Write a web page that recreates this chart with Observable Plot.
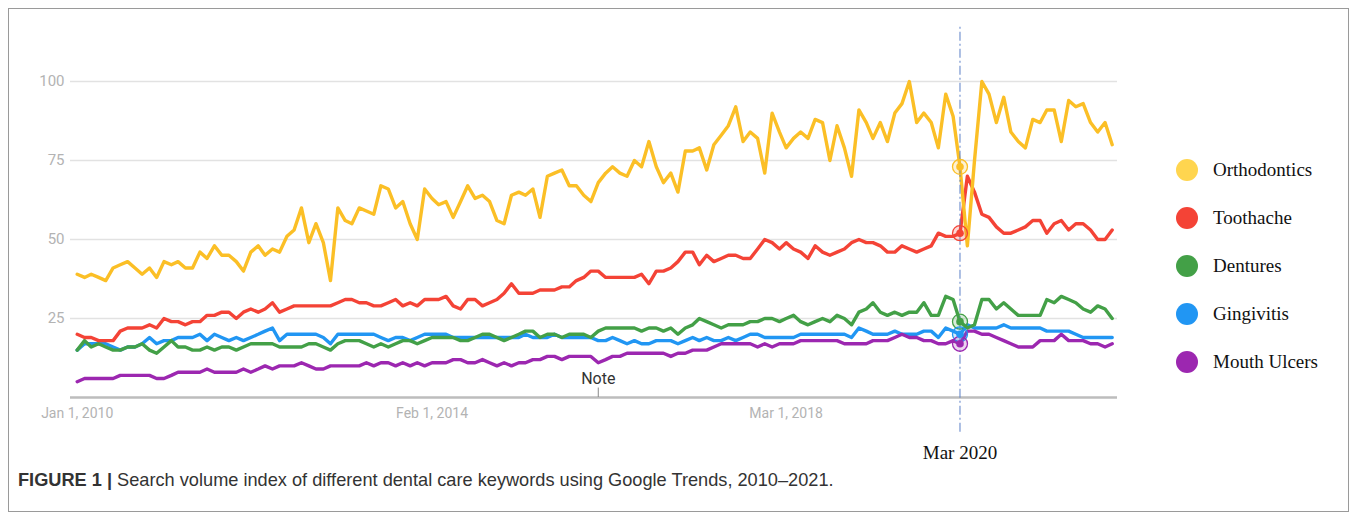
<!DOCTYPE html>
<html>
<head>
<meta charset="utf-8">
<script src="https://cdn.jsdelivr.net/npm/d3@7"></script>
<script src="https://cdn.jsdelivr.net/npm/@observablehq/plot@0.6"></script>
<style>
  body { margin: 0; background: #fff; }
  #wrap { position: relative; width: 1357px; height: 527px; overflow: hidden; background: #fff; }
  #frame { position: absolute; left: 8px; top: 8px; width: 1341px; height: 504px; border: 1px solid #9a9a9a; box-sizing: border-box; }
  #chart { position: absolute; left: 0; top: 0; }
  #legend { position: absolute; left: 1176px; top: 0; }
  .item { position: absolute; left: 0; height: 22px; line-height: 22px; display: flex; align-items: center; white-space: nowrap;
          font-family: "Liberation Serif", "Times New Roman", serif; font-size: 19px; color: #111; }
  .sw { width: 22px; height: 22px; border-radius: 50%; margin-right: 15px; flex: none; }
  #caption { position: absolute; left: 18px; top: 470px; font-family: "Liberation Sans", Arial, sans-serif; font-size: 18.2px; color: #333; white-space: nowrap; }
  #caption b { color: #333; }
</style>
</head>
<body>
<div id="wrap">
  <div id="frame"></div>
  <div id="chart"></div>
  <div id="legend"></div>
  <div id="caption"><b>FIGURE 1 |</b> Search volume index of different dental care keywords using Google Trends, 2010–2021.</div>
</div>
<script>
// ---- Data (monthly Google Trends index, Jan 2010 – Dec 2021) ----
const startMonth = Date.UTC(2010, 0, 1);
const endMonthExclusive = Date.UTC(2022, 0, 1);

const seriesNames = ["Orthodontics", "Toothache", "Dentures", "Gingivitis", "Mouth Ulcers"];
const lineColors = ["#FBBF26", "#F44336", "#43A047", "#2196F3", "#9C27B0"];
const legendColors = ["#FFD54F", "#F44336", "#43A047", "#2196F3", "#9C27B0"];

const orthodontics = [
  39,38,39,38,37,41,42,43,41,39,41,38,43,42,43,41,41,46,44,48,45,45,43,40,
  46,48,45,47,46,51,53,60,49,55,49,37,60,56,55,60,59,58,67,66,60,62,55,50,
  66,63,61,62,57,62,67,63,64,62,56,55,64,65,64,66,57,70,71,72,67,67,64,62,
  68,71,73,71,70,75,73,81,73,68,71,65,78,78,79,72,80,83,86,92,81,84,82,71,
  90,84,79,82,84,82,88,87,75,86,79,70,91,87,82,87,81,90,93,100,87,90,87,79,
  96,89,73,48,75,100,96,87,95,84,81,79,88,87,91,91,81,94,92,93,87,84,87,80
];
const toothache = [
  20,19,19,18,18,18,21,22,22,22,23,22,25,24,24,23,24,24,26,26,27,27,25,27,
  28,27,28,30,27,28,29,29,29,29,29,29,30,31,31,30,30,29,29,30,31,29,30,29,
  31,31,31,32,29,28,31,31,29,30,31,33,36,33,33,33,34,34,34,35,35,37,38,40,
  40,38,38,38,38,38,39,36,40,40,41,43,46,46,42,45,43,44,45,45,44,44,47,50,
  49,47,49,47,46,44,48,46,45,46,47,49,50,49,49,48,46,46,48,47,46,47,48,52,
  51,51,52,70,65,58,57,54,52,52,53,54,56,56,52,55,56,53,55,55,53,50,50,53
];
const dentures = [
  15,18,16,17,16,15,15,16,16,17,15,14,16,18,16,16,15,15,16,15,16,16,15,16,
  17,17,17,17,16,16,16,16,17,17,16,15,17,18,18,18,17,16,17,16,17,18,18,17,
  18,19,19,19,19,18,18,19,20,20,19,18,19,20,21,21,19,20,20,19,20,20,20,19,
  21,22,22,22,22,22,21,22,22,21,22,20,22,23,25,24,23,22,23,23,23,24,24,25,
  25,24,25,26,24,23,24,25,24,26,25,23,27,28,30,27,26,27,26,27,27,30,26,26,
  32,31,24,22,23,31,31,28,30,28,26,26,26,26,31,30,32,31,30,28,27,29,28,25
];
const gingivitis = [
  15,17,17,17,17,16,15,16,16,17,19,17,18,18,19,19,19,20,18,20,19,18,19,18,
  19,20,21,22,18,20,20,20,20,20,19,17,20,20,20,20,20,20,19,18,19,19,18,19,
  20,20,20,20,19,19,19,19,19,19,19,19,19,19,20,19,19,19,20,19,19,19,19,19,
  18,18,19,18,17,18,17,17,18,18,18,17,18,19,18,19,18,18,19,18,19,20,20,19,
  19,19,19,19,20,20,20,20,20,20,20,19,22,21,20,20,20,21,20,20,20,21,21,19,
  22,21,20,23,22,22,22,22,23,22,22,22,22,22,21,21,21,21,20,19,19,19,19,19
];
const mouthUlcers = [
  5,6,6,6,6,6,7,7,7,7,7,6,6,7,8,8,8,8,9,8,8,8,8,9,
  8,9,10,9,10,10,10,11,10,9,9,10,10,10,10,10,11,10,11,11,10,11,10,11,
  10,11,11,11,12,12,11,11,12,11,10,11,10,11,11,12,12,13,13,12,13,13,13,13,
  11,12,13,13,14,14,14,14,14,14,13,14,14,15,15,15,16,17,17,17,17,17,16,17,
  16,17,17,17,18,18,18,18,18,18,17,17,17,17,18,18,18,19,20,19,19,18,18,17,
  17,18,17,21,21,20,20,19,18,17,16,16,16,18,18,18,20,18,18,18,17,17,16,17
];

const yTicks = [25, 50, 75, 100];
const xTickDates = ["2010-01-01", "2014-02-01", "2018-03-01"];
const xTickLabels = ["Jan 1, 2010", "Feb 1, 2014", "Mar 1, 2018"];
const noteDate = "2016-01-01";
const noteLabel = "Note";
const eventDate = "2020-03-01";
const eventLabel = "Mar 2020";

// ---- Build table ----
const months = d3.utcMonth.range(new Date(startMonth), new Date(endMonthExclusive));
const seriesValues = [orthodontics, toothache, dentures, gingivitis, mouthUlcers];
const rows = seriesNames.flatMap((name, k) =>
  seriesValues[k].map((v, i) => ({ series: name, date: months[i], value: v, order: k })));
const drawOrder = ["Gingivitis", "Mouth Ulcers", "Dentures", "Toothache", "Orthodontics"];
const eventTime = new Date(eventDate).getTime();
const eventPoints = rows.filter(d => d.date.getTime() === eventTime);
const xTicks = xTickDates.map((d, i) => ({ date: new Date(d), label: xTickLabels[i] }));
const colorOf = Object.fromEntries(seriesNames.map((n, i) => [n, lineColors[i]]));

const lineMarks = drawOrder.map(name =>
  Plot.line(rows.filter(d => d.series === name), {
    x: "date", y: "value", stroke: colorOf[name], strokeWidth: 3.4,
    strokeLinejoin: "round", strokeLinecap: "round"
  }));

const chart = Plot.plot({
  width: 1357,
  height: 470,
  marginLeft: 70,
  marginRight: 240,
  marginTop: 81,
  marginBottom: 73,
  x: { type: "utc", domain: [months[0], months[months.length - 1]], range: [76.7, 1111.7], axis: null },
  y: { domain: [0, 100], axis: null },
  style: { fontFamily: "Roboto, sans-serif", background: "transparent", overflow: "visible" },
  marks: [
    Plot.ruleY(yTicks, { stroke: "#e2e2e2", strokeWidth: 1.5 }),
    Plot.ruleY([0], { stroke: "#bdbdbd", strokeWidth: 2.5 }),
    Plot.axisY({ ticks: yTicks, tickSize: 0, tickPadding: 6, fontSize: 15, color: "#b3b3b3", label: null }),
    Plot.text(xTicks, { x: "date", y: 0, text: "label", dy: 16, fontSize: 14, fill: "#b3b3b3" }),
    Plot.ruleX([new Date(noteDate)], { y1: 0, y2: 3, stroke: "#888", strokeWidth: 1 }),
    Plot.text([noteLabel], { x: new Date(noteDate), y: 0, text: d => d, dy: -19, fontSize: 16, fill: "#333" }),
    ...lineMarks,
    Plot.ruleX([new Date(eventDate)], { y1: -11, y2: 117.7, stroke: "#5b7fc7", strokeWidth: 1, strokeDasharray: "9,3,2,3" }),
    Plot.dot(eventPoints, { x: "date", y: "value", r: 7.5, stroke: d => colorOf[d.series], fill: d => colorOf[d.series], fillOpacity: 0.2, strokeWidth: 1.3 }),
    Plot.dot(eventPoints, { x: "date", y: "value", r: 3.8, fill: d => colorOf[d.series], stroke: "none" }),
    Plot.text([eventLabel], { x: new Date(eventDate), y: -17.6, text: d => d, fontFamily: "Liberation Serif, Times New Roman, serif", fontSize: 19, fill: "#111" })
  ]
});
document.getElementById("chart").appendChild(chart);

// ---- Legend ----
const legendY = [170, 218, 266, 314, 362];
const legend = document.getElementById("legend");
seriesNames.forEach((name, i) => {
  const item = document.createElement("div");
  item.className = "item";
  item.style.top = (legendY[i] - 11) + "px";
  const sw = document.createElement("span");
  sw.className = "sw";
  sw.style.background = legendColors[i];
  const label = document.createElement("span");
  label.textContent = name;
  item.appendChild(sw);
  item.appendChild(label);
  legend.appendChild(item);
});
</script>
</body>
</html>
